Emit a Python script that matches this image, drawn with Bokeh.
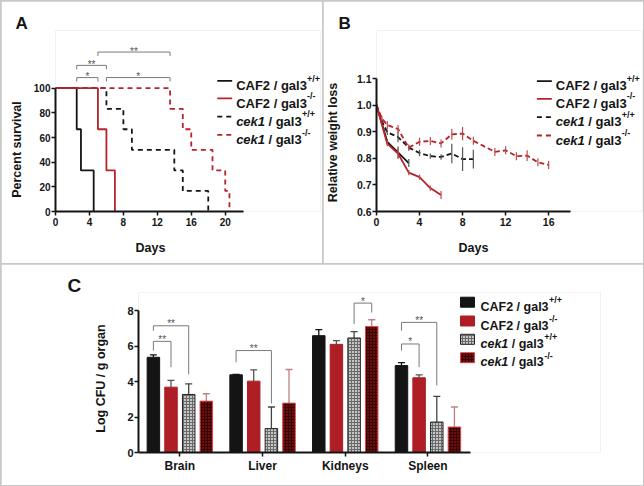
from bokeh.plotting import figure
from bokeh.layouts import column, row
from bokeh.models import Label, FixedTicker, Range1d, Title
from bokeh.embed import file_html
from bokeh.resources import INLINE

SANS = "Liberation Sans"
INK = "#141414"
RED = "#b5232b"
BAR_RED = "#ad1f24"
DARK_RED = "#6a1010"
GRAY = "#c6c6c6"
SIG = "#7a7a7a"

# ---------------- data ----------------
# Panel A : Kaplan-Meier survival (days, percent surviving)
a_caf2_wt_days = [0, 2.5, 3, 4.5]
a_caf2_wt_pct = [100, 66.7, 33.3, 0]
a_caf2_ko_days = [0, 5, 6, 7]
a_caf2_ko_pct = [100, 66.7, 33.3, 0]
a_cek1_wt_days = [0, 6, 8, 9, 14, 15, 18]
a_cek1_wt_pct = [100, 83.3, 66.7, 50, 33.3, 16.7, 0]
a_cek1_ko_days = [0, 13.5, 15, 16, 18.5, 20, 20.5]
a_cek1_ko_pct = [100, 83.3, 66.7, 50, 33.3, 16.7, 0]
a_xticks = [0, 4, 8, 12, 16, 20]
a_yticks = [0, 20, 40, 60, 80, 100]
a_sig_from = [5, 2.5, 2.5, 6]
a_sig_to = [13.5, 6, 5, 13.5]
a_sig_level = [129.3, 118.5, 108.6, 108.6]
a_sig_text = ["**", "**", "*", "*"]

# Panel B : relative weight (mean, error)
b_caf2_wt_days = [0, 1, 2, 3]
b_caf2_wt_val = [1.0, 0.862, 0.822, 0.782]
b_caf2_wt_err = [0.0, 0.010, 0.022, 0.015]
b_caf2_ko_days = [0, 1, 2, 3, 4, 5, 6]
b_caf2_ko_val = [1.0, 0.855, 0.818, 0.746, 0.729, 0.688, 0.662]
b_caf2_ko_err = [0.0, 0.010, 0.020, 0.010, 0.010, 0.010, 0.015]
b_cek1_wt_days = [0, 0.5, 1, 2, 3, 4, 5, 6, 7, 8, 9]
b_cek1_wt_val = [1.0, 0.94, 0.898, 0.880, 0.840, 0.820, 0.808, 0.805, 0.818, 0.797, 0.797]
b_cek1_wt_err = [0.0, 0.010, 0.010, 0.020, 0.010, 0.012, 0.010, 0.010, 0.037, 0.045, 0.035]
b_cek1_ko_days = [0, 0.5, 1, 2, 3, 4, 5, 6, 7, 8, 9, 11, 12, 13, 14, 15, 16]
b_cek1_ko_val = [1.0, 0.95, 0.925, 0.910, 0.840, 0.862, 0.865, 0.856, 0.890, 0.893,
                 0.866, 0.824, 0.830, 0.808, 0.810, 0.785, 0.775]
b_cek1_ko_err = [0.0, 0.010, 0.015, 0.015, 0.012, 0.015, 0.015, 0.015, 0.020, 0.025,
                 0.015, 0.015, 0.015, 0.015, 0.020, 0.015, 0.015]
b_xticks = [0, 4, 8, 12, 16]
b_yticks = [0.6, 0.7, 0.8, 0.9, 1.0, 1.1]

# Panel C : fungal burden (log CFU / g organ)
c_groups = ["Brain", "Liver", "Kidneys", "Spleen"]
c_caf2_wt = [5.38, 4.39, 6.60, 4.91]
c_caf2_wt_err = [0.14, 0.02, 0.34, 0.17]
c_caf2_ko = [3.69, 4.03, 6.11, 4.22]
c_caf2_ko_err = [0.38, 0.64, 0.21, 0.17]
c_cek1_wt = [3.28, 1.35, 6.47, 1.72]
c_cek1_wt_err = [0.60, 1.22, 0.36, 1.45]
c_cek1_ko = [2.90, 2.79, 7.12, 1.44]
c_cek1_ko_err = [0.42, 1.90, 0.38, 1.13]
c_yticks = [0, 2, 4, 6, 8]
# significance: group, bar a, bar b, bracket level, leg a bottom, leg b bottom, text
c_sig = [
    (0, 0, 1, 6.28, 5.76, 4.82, "**"),
    (0, 0, 2, 7.16, 6.88, 4.41, "**"),
    (1, 0, 2, 5.76, 5.10, 2.77, "**"),
    (2, 2, 3, 8.44, 7.26, 7.91, "*"),
    (3, 0, 1, 6.13, 5.76, 4.82, "*"),
    (3, 0, 2, 7.35, 6.88, 3.79, "**"),
]

legend_strains = ["CAF2", "CAF2", "cek1", "cek1"]
legend_genotypes = ["+/+", "-/-", "+/+", "-/-"]

# ---------------- helpers ----------------
ARIAL_BOLD = {' ': 278, '/': 278, '+': 584, '-': 333, 'C': 722, 'A': 722, 'F': 611,
              '1': 556, '2': 556, '3': 556, 'g': 611, 'a': 556, 'l': 278, 'c': 556,
              'e': 556, 'k': 556, 'D': 722, 'y': 556, 's': 556, 'P': 667, 'r': 389,
              'n': 611, 't': 333, 'u': 611, 'v': 556, 'i': 278, 'R': 722, 'w': 778,
              'h': 611, 'o': 611, 'L': 611, 'U': 722}


def tw(s, size):
    return sum(ARIAL_BOLD[ch] for ch in s) / 1000.0 * size


def mapper(x0px, sx, y0px, sy, xv0=0.0, yv0=0.0):
    return (lambda px: xv0 + (px - x0px) / sx), (lambda py: yv0 + (y0px - py) / sy)


def make_fig(left, top, w, h, x0px, sx, y0px, sy, fright, ftop, letter, letter_x,
             letter_size, letter_standoff, yv0=0.0):
    t = Title(text=letter, align="left", offset=letter_x - x0px, standoff=letter_standoff,
              text_font=SANS, text_font_style="bold", text_font_size=f"{letter_size}px",
              text_color=INK)
    p = figure(width=w, height=h, title=t, toolbar_location=None, output_backend="svg",
               x_range=Range1d(0, (fright - x0px) / sx),
               y_range=Range1d(yv0, yv0 + (y0px - ftop) / sy),
               min_border_left=x0px - left, min_border_right=left + w - fright,
               min_border_top=ftop - top, min_border_bottom=top + h - y0px)
    p.grid.visible = False
    p.outline_line_color = None
    p.background_fill_color = "white"
    p.border_fill_color = "white"
    return p


def style_axes(p, tick_px):
    for ax in p.axis:
        ax.axis_line_width = 2
        ax.axis_line_color = INK
        ax.major_tick_line_width = 1.5
        ax.major_tick_line_color = INK
        ax.major_tick_in = 0
        ax.major_tick_out = 4
        ax.minor_tick_line_color = None
        ax.major_label_text_font = SANS
        ax.major_label_text_font_style = "bold"
        ax.major_label_text_font_size = f"{tick_px}px"
        ax.major_label_text_color = INK
        ax.major_label_standoff = 2


def gap_after_ticks(ax, px):
    # blank 1px axis label: only reserves `px` of room beyond the tick labels
    ax.axis_label = " "
    ax.axis_label_text_font_size = "1px"
    ax.axis_label_standoff = px


def label(p, x, y, text, size, style="bold", color=INK, align="left"):
    p.add_layout(Label(x=x, y=y, text=text, text_font=SANS, text_font_style=style,
                       text_font_size=f"{size}px", text_color=color, text_align=align,
                       text_baseline="alphabetic"))


def legend_text(p, fx, fy, x_px, base_px, strain, geno, size, sup_size, sup_raise):
    if strain == "cek1":
        label(p, fx(x_px), fy(base_px), strain, size, style="bold italic")
        x2 = x_px + tw(strain + " ", size)
        label(p, fx(x2), fy(base_px), "/ gal3", size)
        xe = x2 + tw("/ gal3", size)
    else:
        label(p, fx(x_px), fy(base_px), strain + " / gal3", size)
        xe = x_px + tw(strain + " / gal3", size)
    label(p, fx(xe + 0.5), fy(base_px - sup_raise), geno, sup_size)


AXL = 12.5  # axis title font size


def side_title(p, text, side, offset, standoff, valign):
    p.add_layout(Title(text=text, align="left", offset=offset, standoff=standoff,
                       vertical_align=valign, text_font=SANS, text_font_style="bold",
                       text_font_size=f"{AXL}px", text_color=INK), side)


# ---------------- panel A ----------------
A_L, A_T, A_W, A_H = 1, 1, 321, 262
ax0, asx, ay0, asy = 53, 8.55, 212, 1.24
pA = make_fig(A_L, A_T, A_W, A_H, ax0, asx, ay0, asy, 320, 30, "A", 13, 17, -4)
fxA, fyA = mapper(ax0, asx, ay0, asy)
pA.step(a_caf2_wt_days, a_caf2_wt_pct, mode="after", line_color=INK, line_width=1.8)
pA.step(a_cek1_wt_days, a_cek1_wt_pct, mode="after", line_color=INK, line_width=1.8,
        line_dash="5 4")
pA.step(a_cek1_ko_days, a_cek1_ko_pct, mode="after", line_color=RED, line_width=1.8,
        line_dash="5 4")
pA.step(a_caf2_ko_days, a_caf2_ko_pct, mode="after", line_color=RED, line_width=1.8)
leg = 4 / asy
pA.multi_line(xs=[[a, a, b, b] for a, b in zip(a_sig_from, a_sig_to)],
              ys=[[y - leg, y, y, y - leg] for y in a_sig_level],
              line_color=SIG, line_width=1)
for a, b, y, t in zip(a_sig_from, a_sig_to, a_sig_level, a_sig_text):
    label(pA, (a + b) / 2, y + 1 / asy, t, 10, style="normal", color="#555", align="center")
pA.xaxis.ticker = FixedTicker(ticks=a_xticks)
pA.yaxis.ticker = FixedTicker(ticks=a_yticks)
pA.xaxis.bounds = (0, 22.2)
pA.yaxis.bounds = (0, 100)
style_axes(pA, 10)
pA.yaxis.major_label_standoff = 1
gap_after_ticks(pA.xaxis[0], 8)
# axis titles centred on the axis extents (not on the wider frame)
side_title(pA, "Days", "below", 148 - tw("Days", AXL) / 2 - ax0, 0, "top")
side_title(pA, "Percent survival", "left", ay0 - (150 + tw("Percent survival", AXL) / 2),
           13, "bottom")
rowsA = [80.7, 98.3, 116.7, 135.0]
a_styles = [(INK, None), (RED, None), (INK, "5 4"), (RED, "5 4")]
for i, yc in enumerate(rowsA):
    col, dash = a_styles[i]
    kw = dict(line_dash=dash) if dash else {}
    pA.line([fxA(216), fxA(231)], [fyA(yc), fyA(yc)], line_color=col, line_width=1.8, **kw)
    legend_text(pA, fxA, fyA, 235, yc + 4.65, legend_strains[i], legend_genotypes[i], 13, 9, 7)

# ---------------- panel B ----------------
B_L, B_T, B_W, B_H = 323, 1, 320, 262
bx0, bsx, by0, bsy = 375, 10.8, 211, 266
pB = make_fig(B_L, B_T, B_W, B_H, bx0, bsx, by0, bsy, 642, 30, "B", 337, 17, -4, yv0=0.6)
fxB, fyB = mapper(bx0, bsx, by0, bsy, yv0=0.6)
series_B = [
    (b_caf2_wt_days, b_caf2_wt_val, b_caf2_wt_err, INK, None, "#555555"),
    (b_cek1_wt_days, b_cek1_wt_val, b_cek1_wt_err, INK, "5 3", "#555555"),
    (b_cek1_ko_days, b_cek1_ko_val, b_cek1_ko_err, RED, "5 3", "#c04a4a"),
    (b_caf2_ko_days, b_caf2_ko_val, b_caf2_ko_err, RED, None, "#c04a4a"),
]
for d, v, e, col, dash, ecol in series_B:
    kw = dict(line_dash=dash) if dash else {}
    pB.line(d, v, line_color=col, line_width=1.8, **kw)
    pB.segment(x0=d, x1=d, y0=[a - b for a, b in zip(v, e)], y1=[a + b for a, b in zip(v, e)],
               line_color=ecol, line_width=1.2)
pB.xaxis.ticker = FixedTicker(ticks=b_xticks)
pB.yaxis.ticker = FixedTicker(ticks=b_yticks)
pB.yaxis.major_label_overrides = {t: f"{t:.1f}" for t in b_yticks}
pB.xaxis.bounds = (0, 18.05)
pB.yaxis.bounds = (0.6, 1.1)
style_axes(pB, 10.5)
pB.yaxis.major_label_standoff = 1
gap_after_ticks(pB.xaxis[0], 8)
gap_after_ticks(pB.yaxis[0], 10)
side_title(pB, "Days", "below", 472 - tw("Days", AXL) / 2 - bx0, 0, "top")
side_title(pB, "Relative weight loss", "left",
           by0 - (142 + tw("Relative weight loss", AXL) / 2), 0, "bottom")
for i, yc in enumerate(rowsA):
    col, dash = a_styles[i]
    kw = dict(line_dash=dash) if dash else {}
    pB.line([fxB(536), fxB(551)], [fyB(yc), fyB(yc)], line_color=col, line_width=1.8, **kw)
    legend_text(pB, fxB, fyB, 555, yc + 4.65, legend_strains[i], legend_genotypes[i], 13, 9, 7)

# ---------------- panel C ----------------
C_L, C_T, C_W, C_H = 1, 264, 642, 221
cx0, csx, cy0, csy = 138, 82.7, 452, 17.7
pC = make_fig(C_L, C_T, C_W, C_H, cx0, csx, cy0, csy, 600, 292, "C", 67, 19, -6)
fxC, fyC = mapper(cx0, csx, cy0, csy)
centers = [i + 0.5 for i in range(len(c_groups))]
offsets = [-0.32, -0.107, 0.107, 0.32]
bw = 0.151
cap = 3.5 / csx
bar_styles = [
    dict(fill_color=INK, line_color=INK, line_width=1),
    dict(fill_color=BAR_RED, line_color=BAR_RED, line_width=1),
    dict(fill_color=GRAY, line_color="#222222", line_width=1, hatch_pattern="cross",
         hatch_color="#6a6a6a", hatch_scale=3, hatch_weight=1),
    dict(fill_color=DARK_RED, line_color="#e04a4a", line_width=1, hatch_pattern="cross",
         hatch_color="#3a0404", hatch_scale=3, hatch_weight=1),
]
err_cols = [INK, "#555555", "#444444", "#c08080"]
c_vals = [c_caf2_wt, c_caf2_ko, c_cek1_wt, c_cek1_ko]
c_errs = [c_caf2_wt_err, c_caf2_ko_err, c_cek1_wt_err, c_cek1_ko_err]
for k in range(4):
    xs = [c + offsets[k] for c in centers]
    tops = c_vals[k]
    ups = [t + e for t, e in zip(tops, c_errs[k])]
    pC.segment(x0=xs, x1=xs, y0=tops, y1=ups, line_color=err_cols[k], line_width=1.3)
    pC.segment(x0=[x - cap for x in xs], x1=[x + cap for x in xs], y0=ups, y1=ups,
               line_color=err_cols[k], line_width=1.3)
    pC.vbar(x=xs, top=tops, bottom=0, width=bw, **bar_styles[k])
for g, i, j, lev, la, lb, t in c_sig:
    xa = centers[g] + offsets[i]
    xb = centers[g] + offsets[j]
    pC.line([xa, xa, xb, xb], [la, lev, lev, lb], line_color=SIG, line_width=1)
    label(pC, (xa + xb) / 2, lev + 2 / csy, t, 10, style="normal", color="#555",
          align="center")
pC.xaxis.ticker = FixedTicker(ticks=centers)
pC.xaxis.major_label_overrides = {c: n for c, n in zip(centers, c_groups)}
pC.yaxis.ticker = FixedTicker(ticks=c_yticks)
pC.xaxis.bounds = (0, 4.02)
pC.yaxis.bounds = (0, 8)
style_axes(pC, 11)
pC.xaxis.major_label_text_font_size = "12px"
pC.yaxis.major_label_standoff = 1
side_title(pC, "Log CFU / g organ", "left",
           cy0 - (378 + tw("Log CFU / g organ", AXL) / 2), 34, "bottom")
rowsC = [301.7, 320.5, 338.8, 357.2]
for i, yc in enumerate(rowsC):
    st = dict(bar_styles[i])
    pC.quad(left=fxC(460), right=fxC(474), top=fyC(yc - 5), bottom=fyC(yc + 5), **st)
    legend_text(pC, fxC, fyC, 480, yc + 4.5, legend_strains[i], legend_genotypes[i], 12.5, 9, 6.5)

layout = column(row(pA, pB, spacing=1), pC, spacing=1,
                styles={"background-color": "#c8c8c8", "padding": "1px"})

with open("out.html", "w") as f:
    f.write(file_html(layout, INLINE))
